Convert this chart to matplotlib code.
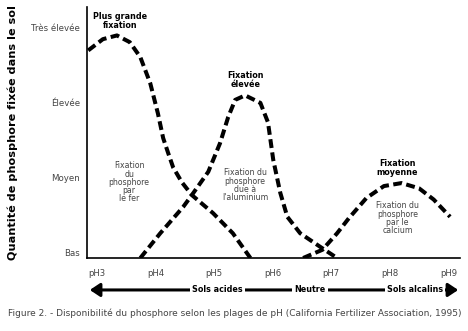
import matplotlib.pyplot as plt
from matplotlib.patches import FancyArrowPatch

plt.rcParams['font.family'] = ['DejaVu Sans']

# valeurs (pH, niveau de fixation 0=Bas .. 3=Très élevée)
fer_ph = [2.85, 3.1, 3.34, 3.56, 3.74, 3.91, 4.04, 4.13, 4.22, 4.30, 4.45, 4.62, 4.98, 5.32, 5.62]
fer_val = [2.69, 2.84, 2.89, 2.80, 2.60, 2.25, 1.85, 1.52, 1.31, 1.13, 0.93, 0.76, 0.52, 0.25, -0.08]

alu_ph = [3.74, 4.08, 4.47, 4.62, 4.90, 5.10, 5.24, 5.36, 5.53, 5.79, 5.92, 6.01, 6.13, 6.25, 6.47, 6.81, 7.10]
alu_val = [-0.08, 0.25, 0.60, 0.76, 1.07, 1.45, 1.80, 2.03, 2.09, 1.99, 1.73, 1.23, 0.79, 0.47, 0.25, 0.07, -0.08]

ca_ph = [6.52, 6.85, 7.1, 7.3, 7.6, 7.9, 8.2, 8.5, 8.75, 9.03]
ca_val = [-0.08, 0.03, 0.25, 0.45, 0.72, 0.88, 0.92, 0.85, 0.70, 0.47]

ph_ticks = [3, 4, 5, 6, 7, 8, 9]
ph_labels = ['pH3', 'pH4', 'pH5', 'pH6', 'pH7', 'pH8', 'pH9']
niveaux = [0, 1, 2, 3]
niveau_labels = ['Bas', 'Moyen', 'Élevée', 'Très élevée']

grey = '#444444'

fig = plt.figure(figsize=(4.68, 3.31), dpi=100)
ax = fig.add_axes([0.186, 0.2205, 0.797, 0.7585])

for xs, ys in [(fer_ph, fer_val), (alu_ph, alu_val), (ca_ph, ca_val)]:
    ax.plot(xs, ys, color='black', lw=2.9, dashes=(2.2, 1.1), dash_capstyle='butt',
            solid_joinstyle='round')

ax.set_xlim(2.83, 9.2)
ax.set_ylim(-0.08, 3.27)
ax.set_xticks(ph_ticks)
ax.set_xticklabels(ph_labels, fontsize=6.1, color=grey)
ax.set_yticks(niveaux)
ax.set_yticklabels(niveau_labels, fontsize=6.2, color=grey)
ax.tick_params(length=0, pad=5)
ax.tick_params(axis='x', pad=8)
for s in ['top', 'right']:
    ax.spines[s].set_visible(False)
for s in ['left', 'bottom']:
    ax.spines[s].set_linewidth(1.2)
ax.set_ylabel('Quantité de phosphore fixée dans le sol', fontsize=8.1,
              fontweight='bold')
ax.yaxis.set_label_coords(-0.185, 0.5)

# étiquettes des courbes
bold_kw = dict(ha='center', va='center', fontsize=5.8, fontweight='bold', linespacing=1.0)
ax.text(3.39, 3.08, 'Plus grande\nfixation', **bold_kw)
ax.text(5.53, 2.29, 'Fixation\nélevée', **bold_kw)
ax.text(8.13, 1.12, 'Fixation\nmoyenne', **bold_kw)

grey_kw = dict(ha='center', va='center', fontsize=5.6, color=grey, linespacing=0.9)
ax.text(3.55, 0.93, 'Fixation\ndu\nphosphore\npar\nle fer', **grey_kw)
ax.text(5.53, 0.89, 'Fixation du\nphosphore\ndue à\nl\'aluminium', **grey_kw)
ax.text(8.13, 0.45, 'Fixation du\nphosphore\npar le\ncalcium', **grey_kw)

# flèche des types de sols
arrow = FancyArrowPatch((0.186, 0.124), (0.985, 0.124), transform=fig.transFigure,
                        arrowstyle='<|-|>,head_length=6,head_width=4', mutation_scale=1,
                        lw=2.2, color='black')
fig.add_artist(arrow)
for x, t in [(0.464, 'Sols acides'), (0.662, 'Neutre'), (0.887, 'Sols alcalins')]:
    fig.text(x, 0.124, t, ha='center', va='center', fontsize=5.8, fontweight='bold',
             bbox=dict(facecolor='white', edgecolor='none', pad=1.5))

fig.text(0.017, 0.054, 'Figure 2. - Disponibilité du phosphore selon les plages de pH '
         '(California Fertilizer Association, 1995)', ha='left', va='center',
         fontsize=6.45, color=grey)

fig.savefig('out.png', dpi=100)
